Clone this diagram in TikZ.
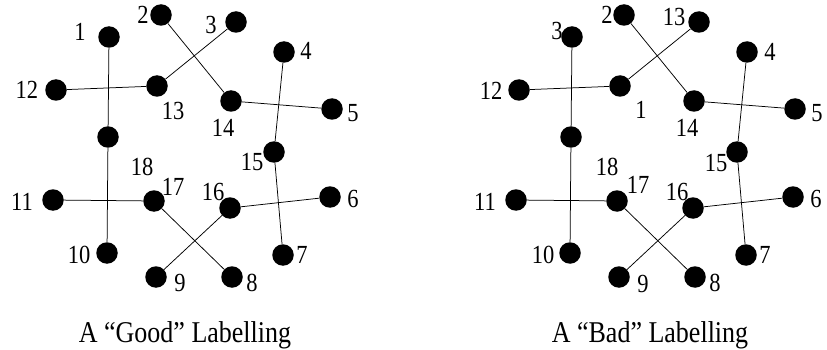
\documentclass[tikz,border=0pt]{standalone}
\usepackage{graphicx}
\usepackage{fontspec}
\setmainfont{Liberation Serif}
\newcommand\vstr[1]{\scalebox{1}[1.16]{#1}}
\begin{document}
\begin{tikzpicture}[x=1pt,y=-1pt,
  vtx/.style={circle,fill=black,draw=none,minimum size=21.5pt,inner sep=0pt},
  lbl/.style={anchor=base,inner sep=0pt,font=\fontsize{22.5}{22}\selectfont},
  captext/.style={anchor=base,inner sep=0pt,font=\fontsize{26}{28}\selectfont},
  link/.style={line width=0.75pt}]
\useasboundingbox (0,0) rectangle (827,350);
% ---------- left graph ----------
\begin{scope}
\node[vtx] (La) at (109,37) {};
\node[vtx] (Lb) at (161,15) {};
\node[vtx] (Lc) at (236,22) {};
\node[vtx] (Ld) at (284,52) {};
\node[vtx] (Le) at (332,109) {};
\node[vtx] (Lf) at (330,197) {};
\node[vtx] (Lg) at (283,255) {};
\node[vtx] (Lh) at (232,277) {};
\node[vtx] (Li) at (156,277) {};
\node[vtx] (Lj) at (107,253) {};
\node[vtx] (Lk) at (53,200) {};
\node[vtx] (Ll) at (56,90) {};
\node[vtx] (Lm) at (157,86) {};
\node[vtx] (Ln) at (231,101) {};
\node[vtx] (Lo) at (274,152) {};
\node[vtx] (Lp) at (230,208) {};
\node[vtx] (Lq) at (154,201) {};
\node[vtx] (Lr) at (108,137) {};
\draw[link] (La) -- (Lr) -- (Lj);
\draw[link] (Ll) -- (Lm);
\draw[link] (Lc) -- (Lm);
\draw[link] (Lb) -- (Ln);
\draw[link] (Ln) -- (Le);
\draw[link] (Ld) -- (Lo) -- (Lg);
\draw[link] (Lk) -- (Lq);
\draw[link] (Lq) -- (Lh);
\draw[link] (Lp) -- (Li);
\draw[link] (Lp) -- (Lf);
\node[lbl] (tLa) at (80,40.5) {\vstr{1}};
\node[lbl] (tLb) at (143,23.5) {\vstr{2}};
\node[lbl] (tLc) at (211,33.5) {\vstr{3}};
\node[lbl] (tLd) at (306,59.5) {\vstr{4}};
\node[lbl] (tLe) at (353,121.5) {\vstr{5}};
\node[lbl] (tLf) at (353,207.5) {\vstr{6}};
\node[lbl] (tLg) at (302,263.5) {\vstr{7}};
\node[lbl] (tLh) at (252,291.5) {\vstr{8}};
\node[lbl] (tLi) at (180,291.5) {\vstr{9}};
\node[lbl] (tLj) at (79,263.5) {\vstr{10}};
\node[lbl] (tLk) at (22,210.5) {\vstr{11}};
\node[lbl] (tLl) at (27,99) {\vstr{12}};
\node[lbl] (tLm) at (173,119.5) {\vstr{13}};
\node[lbl] (tLn) at (223,136.5) {\vstr{14}};
\node[lbl] (tLo) at (252,170.5) {\vstr{15}};
\node[lbl] (tLp) at (213,200.5) {\vstr{16}};
\node[lbl] (tLq) at (173,195.5) {\vstr{17}};
\node[lbl] (tLr) at (142,175.5) {\vstr{18}};
\node[captext] (capL) at (185,342) {\vstr{A “Good” Labelling}};
\end{scope}
% ---------- right graph ----------
\begin{scope}
\node[vtx] (Ra) at (572,37) {};
\node[vtx] (Rb) at (624,15) {};
\node[vtx] (Rc) at (699,22) {};
\node[vtx] (Rd) at (747,52) {};
\node[vtx] (Re) at (795,109) {};
\node[vtx] (Rf) at (793,197) {};
\node[vtx] (Rg) at (746,255) {};
\node[vtx] (Rh) at (695,277) {};
\node[vtx] (Ri) at (619,277) {};
\node[vtx] (Rj) at (570,253) {};
\node[vtx] (Rk) at (516,200) {};
\node[vtx] (Rl) at (519,90) {};
\node[vtx] (Rm) at (620,86) {};
\node[vtx] (Rn) at (694,101) {};
\node[vtx] (Ro) at (737,152) {};
\node[vtx] (Rp) at (693,208) {};
\node[vtx] (Rq) at (617,201) {};
\node[vtx] (Rr) at (571,137) {};
\draw[link] (Ra) -- (Rr) -- (Rj);
\draw[link] (Rl) -- (Rm);
\draw[link] (Rc) -- (Rm);
\draw[link] (Rb) -- (Rn);
\draw[link] (Rn) -- (Re);
\draw[link] (Rd) -- (Ro) -- (Rg);
\draw[link] (Rk) -- (Rq);
\draw[link] (Rq) -- (Rh);
\draw[link] (Rp) -- (Ri);
\draw[link] (Rp) -- (Rf);
\node[lbl] (tRa) at (557,39.5) {\vstr{3}};
\node[lbl] (tRb) at (607,23.5) {\vstr{2}};
\node[lbl] (tRc) at (674,25.5) {\vstr{13}};
\node[lbl] (tRd) at (770,60.5) {\vstr{4}};
\node[lbl] (tRe) at (817,121.5) {\vstr{5}};
\node[lbl] (tRf) at (816,207.5) {\vstr{6}};
\node[lbl] (tRg) at (765,263.5) {\vstr{7}};
\node[lbl] (tRh) at (715,291.5) {\vstr{8}};
\node[lbl] (tRi) at (643,292.5) {\vstr{9}};
\node[lbl] (tRj) at (543,263.5) {\vstr{10}};
\node[lbl] (tRk) at (485,210.5) {\vstr{11}};
\node[lbl] (tRl) at (491,99.5) {\vstr{12}};
\node[lbl] (tRm) at (641,118.5) {\vstr{1}};
\node[lbl] (tRn) at (687,136.5) {\vstr{14}};
\node[lbl] (tRo) at (716,171.5) {\vstr{15}};
\node[lbl] (tRp) at (677,200.5) {\vstr{16}};
\node[lbl] (tRq) at (638,193.5) {\vstr{17}};
\node[lbl] (tRr) at (607,175.5) {\vstr{18}};
\node[captext] (capR) at (650,342) {\vstr{A “Bad” Labelling}};
\end{scope}
\end{tikzpicture}
\end{document}
